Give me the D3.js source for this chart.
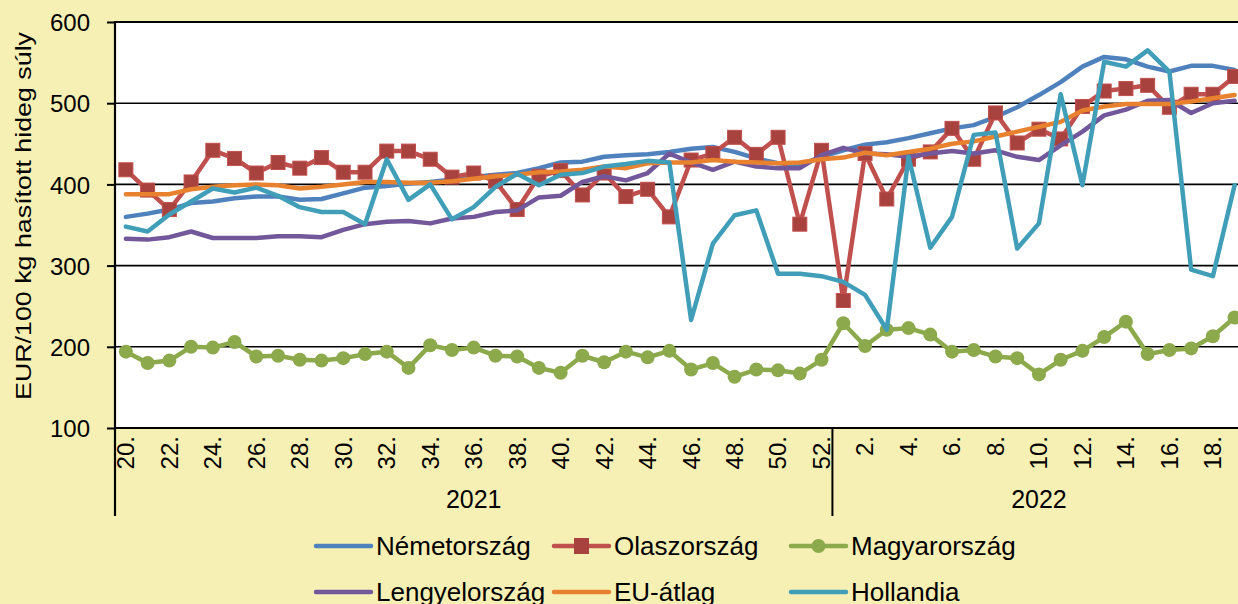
<!DOCTYPE html>
<html>
<head>
<meta charset="utf-8">
<script src="https://cdn.jsdelivr.net/npm/d3@7"></script>
<style>
  body { margin: 0; background: #F6F0B4; }
  svg { display: block; font-family: Arial, "Liberation Sans", sans-serif; }
</style>
</head>
<body>
<div id="chart"></div>
<script>
// categories
const years = ['2021', '2022'];
const weeks2021 = [20, 21, 22, 23, 24, 25, 26, 27, 28, 29, 30, 31, 32, 33, 34, 35, 36, 37, 38, 39, 40, 41, 42, 43, 44, 45, 46, 47, 48, 49, 50, 51, 52];
const weeks2022 = [1, 2, 3, 4, 5, 6, 7, 8, 9, 10, 11, 12, 13, 14, 15, 16, 17, 18, 19];
const yTicks = [100, 200, 300, 400, 500, 600];

// series (EUR/100 kg)
const nemetorszag = [360, 364, 369, 377, 379, 383, 385, 385, 381, 382, 389, 396, 398, 401, 403, 406, 409, 412, 414, 420, 427, 428, 434, 436, 437, 440, 444, 446, 440, 432, 426, 424, 434,
  442, 449, 452, 457, 463, 469, 473, 483, 495, 510, 526, 545, 557, 554, 545, 539, 546, 546, 541];
const olaszorszag = [418, 393, 369, 403, 442, 432, 414, 427, 420, 433, 415, 415, 441, 441, 431, 409, 414, 404, 369, 410, 417, 387, 414, 385, 394, 360, 430, 438, 458, 437, 458, 351, 442,
  257, 438, 382, 431, 440, 469, 431, 488, 451, 468, 456, 496, 515, 518, 522, 495, 511, 511, 533];
const magyarorszag = [194, 180, 183, 200, 199, 206, 188, 189, 184, 183, 186, 191, 194, 174, 202, 196, 199, 189, 188, 174, 168, 189, 181, 194, 187, 195, 172, 180, 163, 172, 171, 167, 184,
  229, 201, 221, 223, 215, 194, 196, 188, 186, 166, 184, 195, 212, 231, 191, 196, 198, 213, 236];
const lengyelorszag = [333, 332, 335, 342, 334, 334, 334, 336, 336, 335, 344, 351, 354, 355, 352, 358, 360, 366, 368, 384, 386, 403, 410, 405, 414, 438, 427, 418, 428, 422, 420, 420, 436,
  445, 438, 437, 434, 438, 441, 438, 442, 434, 430, 448, 465, 485, 492, 503, 504, 488, 500, 503];
const euAtlag = [388, 388, 388, 394, 397, 399, 400, 399, 395, 397, 400, 403, 403, 402, 402, 404, 407, 410, 412, 415, 416, 418, 422, 420, 426, 427, 427, 430, 428, 427, 426, 427, 431,
  433, 439, 436, 440, 444, 450, 453, 459, 465, 471, 477, 491, 496, 499, 499, 499, 502, 506, 510];
const hollandia = [348, 342, 363, 379, 395, 390, 396, 386, 372, 366, 366, 351, 431, 381, 400, 357, 372, 397, 413, 399, 412, 414, 422, 425, 429, 427, 233, 327, 362, 368, 290, 290, 287,
  280, 264, 221, 434, 322, 360, 461, 464, 321, 352, 511, 399, 551, 545, 565, 539, 295, 287, 399];

const series = [
  { name: 'Németország', values: nemetorszag, color: '#4F81BD' },
  { name: 'Olaszország', values: olaszorszag, color: '#C0504D', marker: 'square' },
  { name: 'Magyarország', values: magyarorszag, color: '#8CA94C', marker: 'circle' },
  { name: 'Lengyelország', values: lengyelorszag, color: '#72589B' },
  { name: 'EU-átlag', values: euAtlag, color: '#E8822F' },
  { name: 'Hollandia', values: hollandia, color: '#409EB8' }
];

const categories = weeks2021.map(w => ({ year: years[0], week: w }))
  .concat(weeks2022.map(w => ({ year: years[1], week: w })));

const W = 1238, H = 604;
const plotLeft = 115, plotTop = 22, plotBottom = 428, step = 21.74;

const svg = d3.select('#chart').append('svg')
  .attr('width', W)
  .attr('height', H);

svg.append('rect').attr('width', W).attr('height', H).attr('fill', '#F6F0B4');

const x = d3.scaleBand()
  .domain(d3.range(categories.length))
  .range([plotLeft, plotLeft + categories.length * step])
  .padding(0);
const cx = i => x(i) + x.bandwidth() / 2;

const y = d3.scaleLinear()
  .domain([100, 600])
  .range([plotBottom, plotTop]);

// plot area
svg.append('rect')
  .attr('x', plotLeft).attr('y', plotTop)
  .attr('width', W - plotLeft + 10).attr('height', plotBottom - plotTop)
  .attr('fill', '#fff');

// gridlines
svg.append('g')
  .selectAll('line')
  .data(yTicks.slice(1))
  .enter().append('line')
  .attr('x1', plotLeft).attr('x2', W + 10)
  .attr('y1', d => y(d)).attr('y2', d => y(d))
  .attr('stroke', '#000')
  .attr('stroke-width', d => d === 600 ? 2 : 1.6);

// y axis
const yAxis = svg.append('g')
  .attr('transform', `translate(${plotLeft},0)`)
  .call(d3.axisLeft(y).tickValues(yTicks).tickSize(8).tickPadding(17));
yAxis.select('.domain').remove();
yAxis.selectAll('line').attr('stroke', '#000').attr('stroke-width', 2);
yAxis.selectAll('text')
  .attr('fill', '#000')
  .attr('dy', '0.36em')
  .style('font-size', '24px')
  .style('font-family', 'Arial, "Liberation Sans", sans-serif');

// series lines
const line = d3.line()
  .x((d, i) => cx(i))
  .y(d => y(d));

const g = svg.append('g');
series.forEach(s => {
  g.append('path')
    .datum(s.values)
    .attr('fill', 'none')
    .attr('stroke', s.color)
    .attr('stroke-width', 4.5)
    .attr('stroke-linejoin', 'round')
    .attr('stroke-linecap', 'round')
    .attr('d', line);

  if (s.marker === 'square') {
    g.selectAll(null)
      .data(s.values)
      .enter().append('rect')
      .attr('x', (d, i) => cx(i) - 7)
      .attr('y', d => y(d) - 7)
      .attr('width', 14).attr('height', 14)
      .attr('fill', '#A8423F')
      .attr('stroke', '#C0504D')
      .attr('stroke-width', 1);
  } else if (s.marker === 'circle') {
    g.selectAll(null)
      .data(s.values)
      .enter().append('circle')
      .attr('cx', (d, i) => cx(i))
      .attr('cy', d => y(d))
      .attr('r', 7)
      .attr('fill', s.color);
  }
});

// axis lines
svg.append('line')
  .attr('x1', plotLeft).attr('x2', W + 10)
  .attr('y1', plotBottom).attr('y2', plotBottom)
  .attr('stroke', '#000').attr('stroke-width', 2.2);
svg.append('line')
  .attr('x1', plotLeft).attr('x2', plotLeft)
  .attr('y1', plotTop - 1).attr('y2', 516)
  .attr('stroke', '#000').attr('stroke-width', 2.2);

// year separator
const sepX = x(weeks2021.length);
svg.append('line')
  .attr('x1', sepX).attr('x2', sepX)
  .attr('y1', plotBottom).attr('y2', 516)
  .attr('stroke', '#000').attr('stroke-width', 2);

// week labels
const xAxis = svg.append('g')
  .attr('transform', `translate(0,${plotBottom})`)
  .call(d3.axisBottom(x)
    .tickValues(d3.range(0, categories.length, 2))
    .tickSize(0)
    .tickFormat(i => categories[i].week + '.'));
xAxis.select('.domain').remove();
xAxis.selectAll('.tick')
  .attr('transform', i => `translate(${cx(i)},0)`);
xAxis.selectAll('text')
  .attr('transform', 'rotate(-90)')
  .attr('x', -8)
  .attr('y', 0)
  .attr('dy', '0.35em')
  .attr('text-anchor', 'end')
  .attr('fill', '#000')
  .style('font-size', '24px')
  .style('font-family', 'Arial, "Liberation Sans", sans-serif');

// year labels
const yearSpans = [[plotLeft, sepX], [sepX, plotLeft + categories.length * step]];
svg.append('g')
  .selectAll('text')
  .data(years)
  .enter().append('text')
  .attr('x', (d, i) => (yearSpans[i][0] + yearSpans[i][1]) / 2)
  .attr('y', 508)
  .attr('text-anchor', 'middle')
  .style('font-size', '25px')
  .text(d => d);

// y title
svg.append('text')
  .attr('transform', 'translate(31,216) rotate(-90)')
  .attr('text-anchor', 'middle')
  .attr('textLength', 368)
  .attr('lengthAdjust', 'spacingAndGlyphs')
  .style('font-size', '22px')
  .text('EUR/100 kg hasított hideg súly');

// legend
const legendCols = [316, 554, 791];
const legendRows = [546, 592];
const legend = svg.append('g')
  .selectAll('g')
  .data(series)
  .enter().append('g')
  .attr('transform', (d, i) => `translate(${legendCols[i % 3]},${legendRows[Math.floor(i / 3)]})`);

legend.append('line')
  .attr('x1', 0).attr('x2', 55)
  .attr('stroke', d => d.color)
  .attr('stroke-width', 4.5)
  .attr('stroke-linecap', 'round');

legend.filter(d => d.marker === 'square').append('rect')
  .attr('x', 20).attr('y', -8)
  .attr('width', 15).attr('height', 16)
  .attr('fill', '#A8423F');

legend.filter(d => d.marker === 'circle').append('circle')
  .attr('cx', 27.5).attr('r', 7)
  .attr('fill', d => d.color);

legend.append('text')
  .attr('x', 60)
  .attr('y', 9)
  .style('font-size', '26px')
  .text(d => d.name);
</script>
</body>
</html>
